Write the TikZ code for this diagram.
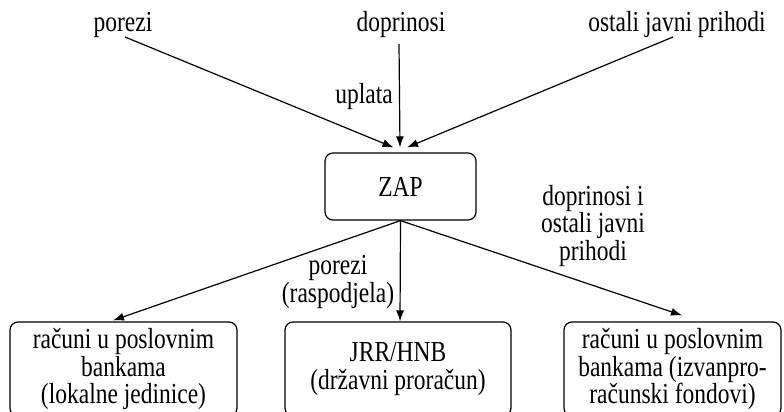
\documentclass[tikz,border=0pt]{standalone}
\usepackage{fontspec}
\setmainfont{Liberation Serif}[FakeStretch=0.81]
\usetikzlibrary{arrows.meta}
\begin{document}
\begin{tikzpicture}[x=1pt,y=-1pt,
  txt/.style={font=\fontsize{29}{27.5}\selectfont, inner sep=0pt, align=center},
  box/.style={draw, line width=1.2pt, rounded corners=8pt, inner sep=0pt,
              align=center, font=\fontsize{29}{27.5}\selectfont},
  arr/.style={line width=1.2pt, -{Latex[length=11pt,width=8pt]}}]
\useasboundingbox (0,0) rectangle (784,412);
\clip (0,0) rectangle (784,412);

% sources of revenue
\node[txt, anchor=base] (porezi) at (123,32) {porezi};
\node[txt, anchor=base] (doprinosi) at (401,32) {doprinosi};
\node[txt, anchor=base] (ostali) at (677,32) {ostali javni prihodi};

% central account
\node[box, minimum width=151pt, minimum height=67pt] (zap) at (400.5,186.5) {ZAP};

% receiving accounts
\node[box, minimum width=227pt, minimum height=94pt] (lok) at (123.5,369)
  {računi u poslovnim\\bankama\\(lokalne jedinice)};
\node[box, minimum width=226pt, minimum height=94pt] (jrr) at (398,369)
  {JRR/HNB\\(državni proračun)};
\node[box, minimum width=217pt, minimum height=94pt] (izv) at (672.5,369)
  {računi u poslovnim\\bankama (izvanpro-\\računski fondovi)};

% edge labels
\node[txt, anchor=base] (uplata) at (364,103) {uplata};
\node[txt] (raspodjela) at (338,282) {porezi\\(raspodjela)};
\node[txt] (doprl) at (593,226) {doprinosi i\\ostali javni\\prihodi};

% payments into ZAP
\draw[arr] ([shift={(2,5)}]porezi.base) -- ([shift={(-7,-5)}]zap.north);
\draw[arr] ([shift={(-2,12)}]doprinosi.base) -- ([shift={(-0.5,-5)}]zap.north);
\draw[arr] ([shift={(-4,5)}]ostali.base) -- ([shift={(6.5,-5)}]zap.north);

% distribution from ZAP
\draw[arr] (zap.south) -- ([shift={(-10.5,-1)}]lok.north);
\draw[arr] (zap.south) -- ([shift={(2,0)}]jrr.north);
\draw[arr] (zap.south) -- ([shift={(9.5,-6)}]izv.north);
\end{tikzpicture}
\end{document}
